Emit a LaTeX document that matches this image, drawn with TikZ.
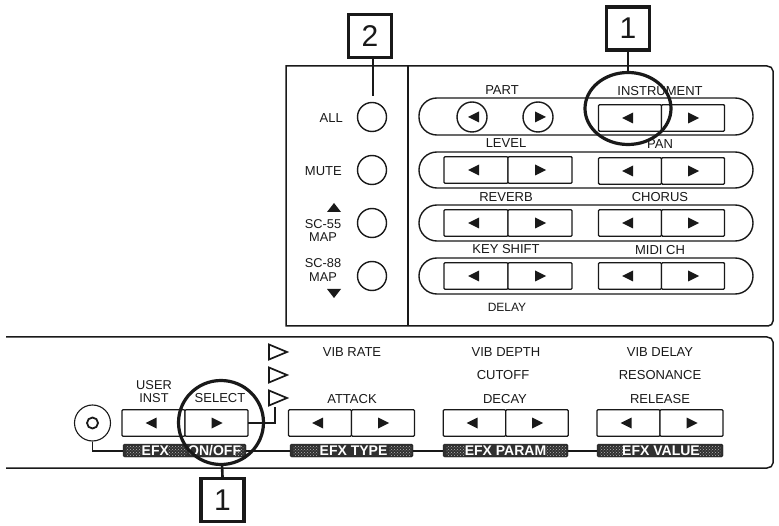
\documentclass[tikz,border=0pt]{standalone}
\usepackage{fontspec}
\setmainfont{Liberation Sans}
\usetikzlibrary{patterns}
\definecolor{ink}{gray}{0.1}
\tikzset{
  x=1pt,y=-1pt,
  line/.style={draw=ink,line width=1.3pt},
  panelline/.style={draw=ink,line width=1.5pt},
  pill/.style={draw=ink,line width=1.4pt,fill=white,rounded corners=17.9pt},
  halfkey/.style={draw=ink,line width=1.4pt,fill=white,minimum height=26.5pt,inner sep=0pt,outer sep=0pt,rounded corners=1pt},
  roundkey/.style={circle,draw=ink,line width=1.4pt,fill=white,minimum size=30pt,inner sep=0pt},
  led/.style={circle,draw=ink,line width=1.4pt,fill=white,minimum size=29pt,inner sep=0pt},
  lbl/.style={inner sep=0pt,font=\fontsize{13}{13}\selectfont,text=ink,align=center},
  tiny/.style={inner sep=0pt,font=\fontsize{12}{12}\selectfont,text=ink,align=center},
  twoline/.style={inner sep=0pt,font=\fontsize{12.8}{13.5}\selectfont,text=ink,align=center},
  bar/.style={draw=ink,fill=ink!90,rounded corners=1.5pt,minimum height=13pt,inner sep=0pt,outer sep=0pt},
  bartext/.style={inner sep=0pt,text=white,font=\fontsize{14}{14}\bfseries\selectfont},
  hatch/.style={draw=none,pattern=crosshatch dots,pattern color=gray!60},
  callout/.style={draw=ink,line width=3.4pt,fill=white,minimum size=43pt,inner sep=0pt,font=\fontsize{30}{30}\selectfont,text=ink},
  stem/.style={draw=ink,line width=2.6pt},
  tri/.style={fill=ink,draw=none},
  opentri/.style={draw=ink,line width=1.7pt,fill=white},
}
\newcommand{\lefttri}[2]{\fill[tri] (#1-6,#2) -- (#1+5,#2-5.5) -- (#1+5,#2+5.5) -- cycle;}
\newcommand{\righttri}[2]{\fill[tri] (#1+6,#2) -- (#1-5,#2-5.5) -- (#1-5,#2+5.5) -- cycle;}
% #1 name, #2 left key centre x, #3 right key centre x, #4 y
\newcommand{\keypair}[4]{
  \node[halfkey,minimum width={#3-#2}] (#1L) at (#2,#4) {};
  \node[halfkey,minimum width={#3-#2}] (#1R) at (#3,#4) {};
  \lefttri{#2-2}{#4}
  \righttri{#3}{#4}
}
\begin{document}
\begin{tikzpicture}
\useasboundingbox (0,0) rectangle (779,526);
\fill[white] (0,0) rectangle (779,526);
% upper panel
\draw[panelline] (286,66) -- (767,66) to[out=0,in=90] (773,71) -- (773,321) to[out=-90,in=0] (768,326) -- (286,326) -- cycle;
\draw[panelline] (408,66) -- (408,326);
% LEDs
\node[led] (all) at (372,117) {};
\node[led] (mute) at (372,170) {};
\node[led] (sc55) at (372,223) {};
\node[led] (sc88) at (372,276) {};
\node[lbl,anchor=east] (tall) at (343,118) {ALL};
\node[lbl,anchor=east] (tmute) at (342,171) {MUTE};
\node[twoline] (t55) at (323,230.5) {SC-55\\MAP};
\node[twoline] (t88) at (323,270) {SC-88\\MAP};
\fill[tri] (334,203) -- (341,212) -- (327,212) -- cycle;
\fill[tri] (334,298) -- (341,289) -- (327,289) -- cycle;
% pills
\foreach \a/\b in {98/135,152/188,205/241,258/294}{
  \draw[pill] (419,\a) rectangle (753,\b);
}
% upper keys
\node[roundkey] (partl) at (472,117) {};
\node[roundkey] (partr) at (538,117) {};
\lefttri{474}{117}
\righttri{540}{117}
\keypair{a}{476}{540}{170}
\keypair{b}{476}{540}{223}
\keypair{c}{476}{540}{276}
\keypair{d}{630}{693}{118}
\keypair{e}{630}{693}{171}
\keypair{f}{630}{693}{223}
\keypair{g}{630}{693}{276}
% upper labels
\node[lbl] (tpart) at (502,90) {PART};
\node[lbl] (tinst) at (660,91) {INSTRUMENT};
\node[lbl] (tlevel) at (506,143) {LEVEL};
\node[lbl] (tpan) at (660,144) {PAN};
\node[lbl] (trev) at (506,197) {REVERB};
\node[lbl] (tcho) at (660,197) {CHORUS};
\node[lbl] (tkey) at (506,249) {KEY SHIFT};
\node[lbl] (tmidi) at (660,250) {MIDI CH};
\node[tiny] (tdelay) at (507,307) {DELAY};
% lower panel
\draw[panelline] (6,337) -- (767,337) to[out=0,in=90] (773,342) -- (773,463) to[out=-90,in=0] (767,468) -- (6,468);
% small knob
\node[circle,draw=ink,line width=1.1pt,minimum size=36pt,inner sep=0pt] (knob) at (92.5,423) {};
\node[circle,draw=ink,line width=1.8pt,minimum size=11pt,inner sep=0pt] (knobin) at (92.5,423) {};
% lower connector line
\coordinate (c0) at (92.5,451);
\draw[line] (knob.south) -- (c0) -- (123,451) -- (597,451);
% bars
\node[bar,minimum width=123pt] (bone) at (184.5,450.5) {};
\node[bar,minimum width=123pt] (btype) at (351.5,450.5) {};
\node[bar,minimum width=125pt] (bparam) at (505.5,450.5) {};
\node[bar,minimum width=126pt] (bvalue) at (660,450.5) {};
\fill[hatch] (126,446) rectangle (141,455);
\fill[hatch] (168,446) rectangle (187,455);
\fill[hatch] (234,446) rectangle (244,455);
\fill[hatch] (293,446) rectangle (318,455);
\fill[hatch] (389,446) rectangle (411,455);
\fill[hatch] (446,446) rectangle (466,455);
\fill[hatch] (545,446) rectangle (566,455);
\fill[hatch] (600,446) rectangle (623,455);
\fill[hatch] (699,446) rectangle (721,455);
\node[bartext,anchor=west] (xone) at (141.5,450.5) {EFX};
\node[bartext,anchor=west] (xoff) at (188,450.5) {ON/OFF};
\node[bartext] (xtype) at (353.5,450.5) {EFX TYPE};
\node[bartext] (xparam) at (505.5,450.5) {EFX PARAM};
\node[bartext] (xvalue) at (661,450.5) {EFX VALUE};
% lower keys
\keypair{p}{153.5}{216.5}{423}
\keypair{q}{320}{383}{423}
\keypair{r}{474.5}{537}{423}
\keypair{s}{628.5}{691.5}{423}
% triangle connector
\coordinate (t3) at (275,407);
\coordinate (tc) at (275,423);
\draw[line] (pR.east) -- (tc) -- (t3);
\foreach \y in {352,375,398}{
  \draw[opentri] (269,\y-7.5) -- (287,\y) -- (269,\y+7.5) -- cycle;
}
% lower labels
\node[twoline] (tuser) at (154,391.5) {USER\\INST};
\node[lbl] (tsel) at (220,398) {SELECT};
\node[lbl] (tvr) at (352,352) {VIB RATE};
\node[lbl] (tatt) at (352,399) {ATTACK};
\node[lbl] (tvd) at (506,352) {VIB DEPTH};
\node[lbl] (tcut) at (503,375) {CUTOFF};
\node[lbl] (tdec) at (505,399) {DECAY};
\node[lbl] (tvdl) at (660,352) {VIB DELAY};
\node[lbl] (tres) at (660,375) {RESONANCE};
\node[lbl] (trel) at (660,399) {RELEASE};
% rings and callouts
\draw[draw=ink,line width=3.2pt] (628,108.5) ellipse[x radius=43,y radius=36];
\draw[draw=ink,line width=3.2pt] (221,422.5) ellipse[x radius=42.5,y radius=42];
\coordinate (ringa) at (628,72.5);
\coordinate (ringb) at (222,464.5);
\coordinate (ledtop) at (373,96);
\node[callout] (c1) at (628,28.5) {1};
\node[callout] (c2) at (370,36) {2};
\node[callout] (c3) at (222.5,500) {1};
\draw[stem] (c1.south) -- (ringa);
\draw[stem] (c2.south -| ledtop) -- (ledtop);
\draw[stem] (c3.north) -- (ringb);
\end{tikzpicture}
\end{document}
